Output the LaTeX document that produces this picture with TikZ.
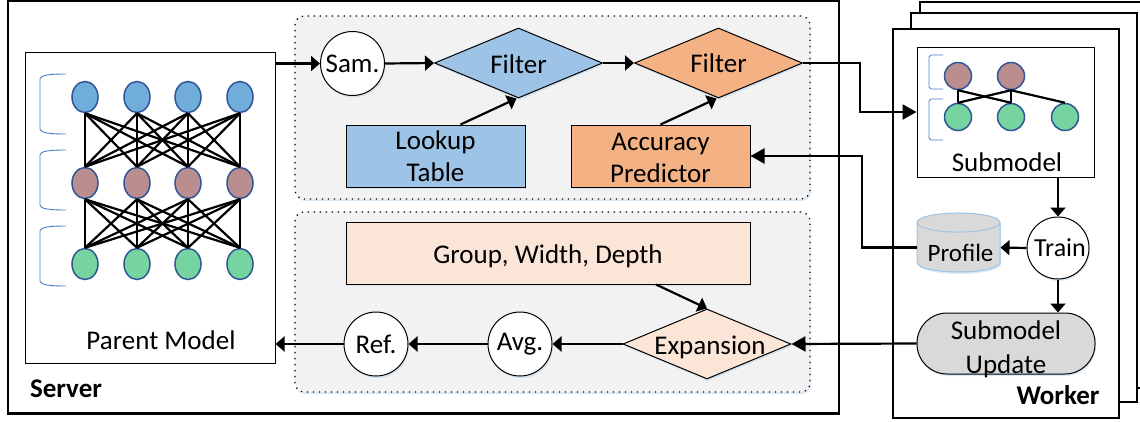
\documentclass[tikz,border=0pt]{standalone}
\usepackage{fontspec}
\setmainfont{Carlito}
\usepackage{xcolor}
\usetikzlibrary{arrows.meta, shapes.geometric, shadows, calc, positioning}

\definecolor{neuronblue}{HTML}{70ADDB}
\definecolor{neuronbrown}{HTML}{BA8E8E}
\definecolor{neurongreen}{HTML}{75D4A0}
\definecolor{neuronedge}{HTML}{2F5597}
\definecolor{bracketblue}{HTML}{4A7EC8}
\definecolor{tableblue}{HTML}{9DC3E6}
\definecolor{predorange}{HTML}{F4B183}
\definecolor{paleorange}{HTML}{FBE5D6}
\definecolor{panelgrey}{HTML}{F2F2F2}
\definecolor{updategrey}{HTML}{D9D9D9}

\newcommand{\nudged}[3]{\raisebox{-#2}[\height][\depth]{\hspace*{#1}#3\hspace*{-#1}}}

\tikzset{
    softshadow/.style={drop shadow={shadow xshift=1pt, shadow yshift=-2pt, fill=tableblue, opacity=0.35}},
    txt/.style={font=\fontsize{27}{32}\selectfont, inner sep=0pt, align=center},
    boldtxt/.style={font=\fontsize{27}{32}\selectfont\bfseries},
    outerbox/.style={draw, line width=2.2pt, fill=white, inner sep=0pt},
    modelbox/.style={draw, line width=1pt, fill=white, inner sep=0pt},
    panel/.style={draw, line width=1.2pt, dash pattern=on 1.3pt off 4.7pt, fill=panelgrey, rounded corners=9pt, inner sep=0pt, softshadow},
    stepbox/.style={txt, draw, line width=1pt, softshadow},
    opcircle/.style={txt, draw, circle, line width=1pt, fill=white, minimum size=64pt, softshadow},
    filterdia/.style={txt, draw, diamond, line width=1pt, aspect=2.4, minimum width=168pt, minimum height=70pt, softshadow},
    neuron/.style={draw=neuronedge, ellipse, line width=1.5pt, minimum width=26pt, minimum height=31pt, inner sep=0pt},
    subneuron/.style={draw=neuronedge, circle, line width=1.5pt, minimum size=27pt, inner sep=0pt},
    wire/.style={line width=2.2pt},
    thinarrow/.style={line width=2.2pt, -{Triangle[length=9pt, width=15pt]}},
    bigarrow/.style={line width=2.2pt, -{Triangle[length=14pt, width=15pt]}},
    bracket/.style={draw=bracketblue, line width=0.9pt},
}

\begin{document}
\begin{tikzpicture}[x=1pt, y=-1pt]
    \useasboundingbox (0,0) rectangle (1140,421);

    % server side
    \node[outerbox, minimum width=831pt, minimum height=413pt] (server) at (423.5,207) {};
    \node[modelbox, minimum width=250pt, minimum height=311pt] (parent) at (150,207.5) {};
    \node[panel, minimum width=515pt, minimum height=183pt] (toppanel) at (552.5,107.5) {};
    \node[panel, minimum width=515pt, minimum height=180pt] (bottompanel) at (552.5,302) {};

    % parent model
    \foreach \col/\xpos in {1/85, 2/137, 3/188, 4/240} {
        \node[neuron, fill=neuronblue] (top\col) at (\xpos,97) {};
        \node[neuron, fill=neuronbrown] (mid\col) at (\xpos,183) {};
        \node[neuron, fill=neurongreen] (low\col) at (\xpos,264) {};
    }
    \foreach \i in {1,2,3,4} {
        \foreach \j in {1,2,3,4} {
            \draw[wire] (top\i.south) -- (mid\j.north);
            \draw[wire] (mid\i.south) -- (low\j.north);
        }
    }
    \foreach \ytop in {74,150,226} {
        \draw[bracket] (66,\ytop) .. controls (50,\ytop) and (40,\ytop+1) .. (40,\ytop+5)
            -- (40,\ytop+55) .. controls (40,\ytop+59) and (50,\ytop+60) .. (66,\ytop+60);
    }
    \node[txt] (parentlabel) at (161,340) {Parent Model};
    \node[txt, boldtxt] (serverlabel) at (66,389) {Server};

    % top panel
    \node[opcircle] (sam) at (352.5,63.5) {Sam.};
    \node[filterdia, fill=tableblue] (filterblue) at (518.5,63) {\nudged{0pt}{1pt}{Filter}};
    \node[filterdia, fill=predorange] (filterorange) at (718.5,63) {Filter};
    \node[stepbox, fill=tableblue, minimum width=179pt, minimum height=62pt] (lookup) at (435.5,156) {Lookup\\Table};
    \node[stepbox, fill=predorange, minimum width=179pt, minimum height=62pt] (accuracy) at (660.5,156) {\nudged{0pt}{1.5pt}{Accuracy}\\\nudged{0pt}{1.5pt}{Predictor}};

    % bottom panel
    \node[stepbox, fill=paleorange, minimum width=404pt, minimum height=62pt] (group) at (548,253) {\nudged{0pt}{3pt}{Group, Width, Depth}};
    \node[filterdia, fill=paleorange] (expansion) at (707,344) {\nudged{3pt}{3pt}{Expansion}};
    \node[opcircle] (avg) at (520,344) {Avg.};
    \node[opcircle] (ref) at (376,344) {Ref.};

    % worker side, two copies behind
    \draw[line width=2.2pt] (1140,2) -- (920,2) -- (920,30) (1137,388) -- (1140,388);
    \node[outerbox, minimum width=226pt, minimum height=389pt] (workerback) at (1024,207.5) {};
    \node[outerbox, minimum width=226pt, minimum height=389pt] (worker) at (1006,223.5) {};
    \node[modelbox, minimum width=177pt, minimum height=130pt] (submodel) at (1005.5,112) {};
    \node[subneuron, fill=neuronbrown] (subtop1) at (958,76) {};
    \node[subneuron, fill=neuronbrown] (subtop2) at (1011,76) {};
    \node[subneuron, fill=neurongreen] (sublow1) at (958,117) {};
    \node[subneuron, fill=neurongreen] (sublow2) at (1011,117) {};
    \node[subneuron, fill=neurongreen] (sublow3) at (1065,117) {};
    \draw[wire] (subtop1.south) -- (sublow1.north);
    \draw[wire] (subtop1.south) -- (sublow2.north);
    \draw[wire] (subtop2.south) -- (sublow1.north);
    \draw[wire] (subtop2.south) -- (sublow2.north);
    \draw[wire] (subtop2.south) -- (sublow3.north);
    \draw[bracket] (943,55) -- (931,55) -- (929,57) -- (929,87) -- (931,89) -- (943,89);
    \draw[bracket] (943,99) -- (931,99) -- (929,101) -- (929,138) -- (931,140) -- (943,140);
    \node[txt] (sublabel) at (1007,162) {Submodel};

    \node[opcircle, minimum size=62pt, font=\fontsize{26}{32}\selectfont] (train) at (1058,248) {\nudged{2pt}{0pt}{Train}};
    \node[txt, font=\fontsize{25}{32}\selectfont, draw=tableblue, line width=1pt, fill=updategrey, cylinder, shape border rotate=90, aspect=0.29,
        minimum width=83pt, minimum height=59pt, softshadow] (profile) at (958.5,247.5) {\nudged{2pt}{5pt}{Profile}};
    \node[txt, draw, line width=1pt, fill=updategrey, rounded corners=30pt, minimum width=178pt, minimum height=61pt,
        softshadow, font=\fontsize{27}{34}\selectfont] (update) at (1006,343.5) {\nudged{0pt}{6pt}{Submodel}\\\nudged{0pt}{6pt}{Update}};
    \node[txt, boldtxt] (workerlabel) at (1058,395) {Worker};

    % connectors
    \coordinate (bendout) at (860,112);
    \coordinate (bendback) at (862,156);
    \draw[thinarrow] (parent.east |- sam) -- (sam.west);
    \draw[thinarrow] (sam.east) -- (filterblue.west);
    \draw[thinarrow] (filterblue.east) -- (filterorange.west);
    \draw[thinarrow] ([xshift=25pt]lookup.north) -- ([xshift=-2pt]filterblue.south);
    \draw[thinarrow] (accuracy.north) -- ([xshift=-2pt]filterorange.south);
    \draw[bigarrow] (filterorange.east) -| (bendout) -- (submodel.west);
    \draw[bigarrow] (profile.west) -| (bendback) -- (accuracy.east);
    \draw[thinarrow] (train |- submodel.south) -- (train.north);
    \draw[thinarrow] (train.west) -- (profile.east);
    \draw[thinarrow] (train.south) -- (train |- update.north);
    \draw[bigarrow] (update.west) -- (expansion.east);
    \draw[thinarrow] ([xshift=108pt]group.south) -- (expansion.north);
    \draw[thinarrow] (expansion.west) -- (avg.east);
    \draw[thinarrow] (avg.west) -- (ref.east);
    \draw[thinarrow] (ref.west) -- (parent.east |- ref);
\end{tikzpicture}
\end{document}
